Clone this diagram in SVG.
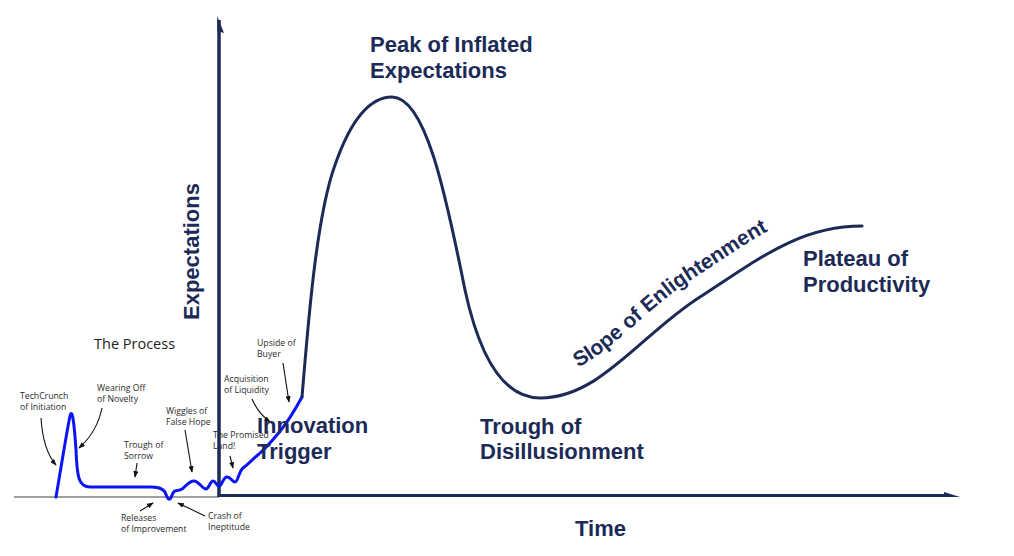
<svg xmlns="http://www.w3.org/2000/svg" width="1014" height="556" viewBox="0 0 1014 556">
<style>
.big{font-family:"Liberation Sans",Arial,sans-serif;font-weight:bold;font-size:22px;fill:#1b2a56}
.note{font-family:"Open Sans","DejaVu Sans",sans-serif;font-size:8.7px;fill:#2a2a2a}
.arr{fill:none;stroke:#111;stroke-width:1.1;marker-end:url(#ah)}
.navy{fill:none;stroke:#1b2a56;stroke-width:3;stroke-linecap:round;stroke-linejoin:round}
.blue{fill:none;stroke:#0a14f5;stroke-width:3;stroke-linecap:round;stroke-linejoin:round}
</style>
<defs>
<marker id="ah" viewBox="0 0 8 6" refX="7" refY="3" markerWidth="7" markerHeight="5" markerUnits="userSpaceOnUse" orient="auto">
<path d="M0,0 L8,3 L0,6 z" fill="#111"/>
</marker>
<path id="slopePath" d="M534,379 C594,379 634,316 694,278 C754,239 794,207 856,207" fill="none"/>
</defs>
<rect width="1014" height="556" fill="#fff"/>
<g id="axes">
<line x1="14" y1="497" x2="219" y2="497" stroke="#a0a0a0" stroke-width="2"/>
<line x1="219" y1="20" x2="219" y2="497" stroke="#1b2a56" stroke-width="3.5"/>
<polygon points="217.3,16 224,33 217.3,31" fill="#1b2a56"/>
<line x1="219" y1="495.5" x2="950" y2="495.5" stroke="#1b2a56" stroke-width="3"/>
<polygon points="944,492 960,497 944,497" fill="#1b2a56"/>
</g>
<g id="connectors">
<path class="blue" d="M56,497 C62,462 67,430 70,416 C72,408 74,420 76,450 C77,478 79,487 90,487 L150,487 C158,487 162,488 165,492 C167,497 168,500 170,499 C172,498 172,492 175,491 C177,490 179,491 182,489 C186,486 189,481 194,481 C199,481 202,489 206,489 C209,489 210,481 213,481 C216,481 216,486 219,486 C222,486 223,477 227,477 C231,477 232,482 235,482 C238,482 239,471 243,468 C248,464 253,459 259,454 C268,446 273,440 281,430 C289,420 296,408 302,397"/>
<path class="navy" d="M302,397 C307,340 315,220 335,165 C350,122 368,97 392,97 C425,97 445,190 465,290 C478,350 500,398 540,398 C600,398 640,335 700,297 C760,258 800,226 862,226"/>
<path class="arr" d="M41,418 Q43,450 56,465"/>
<path class="arr" d="M102,408 Q97,432 79,448"/>
<path class="arr" d="M137,463 L135,477"/>
<path class="arr" d="M185,430 L192,472"/>
<path class="arr" d="M230,456 L233,468"/>
<path class="arr" d="M252,399 Q258,413 270,422"/>
<path class="arr" d="M283,363 L289,402"/>
<path class="arr" d="M140,511 L153,503"/>
<path class="arr" d="M205,516 L178,503"/>
</g>
<g id="peak"><text class="big" x="370" y="52">Peak of Inflated</text><text class="big" x="370" y="78">Expectations</text></g>
<g id="innovation"><text class="big" x="257" y="433">Innovation</text><text class="big" x="257" y="459">Trigger</text></g>
<g id="trough"><text class="big" x="480" y="434">Trough of</text><text class="big" x="480" y="459">Disillusionment</text></g>
<g id="plateau"><text class="big" x="803" y="266">Plateau of</text><text class="big" x="803" y="292">Productivity</text></g>
<g id="slope"><text class="big" style="font-size:21px"><textPath href="#slopePath" startOffset="46">Slope of Enlightenment</textPath></text></g>
<g id="yLabel"><text class="big" transform="translate(199,320) rotate(-90)">Expectations</text></g>
<g id="xLabel"><text class="big" x="575" y="536">Time</text></g>
<g id="process"><text x="94" y="349" style="font-family:'Open Sans','DejaVu Sans',sans-serif;font-size:14.5px;fill:#222">The Process</text></g>
<g id="n-techcrunch"><text class="note" x="20" y="399">TechCrunch</text><text class="note" x="20" y="410">of Initiation</text></g>
<g id="n-wearing"><text class="note" x="97" y="391">Wearing Off</text><text class="note" x="97" y="402">of Novelty</text></g>
<g id="n-sorrow"><text class="note" x="124" y="448">Trough of</text><text class="note" x="124" y="459">Sorrow</text></g>
<g id="n-wiggles"><text class="note" x="166" y="414">Wiggles of</text><text class="note" x="166" y="425">False Hope</text></g>
<g id="n-promised"><text class="note" x="213" y="438">The Promised</text><text class="note" x="213" y="449">Land!</text></g>
<g id="n-acquisition"><text class="note" x="224" y="382">Acquisition</text><text class="note" x="224" y="393">of Liquidity</text></g>
<g id="n-upside"><text class="note" x="257" y="346">Upside of</text><text class="note" x="257" y="357">Buyer</text></g>
<g id="n-releases"><text class="note" x="121" y="521">Releases</text><text class="note" x="121" y="532">of Improvement</text></g>
<g id="n-crash"><text class="note" x="208" y="519">Crash of</text><text class="note" x="208" y="530">Ineptitude</text></g>
</svg>
